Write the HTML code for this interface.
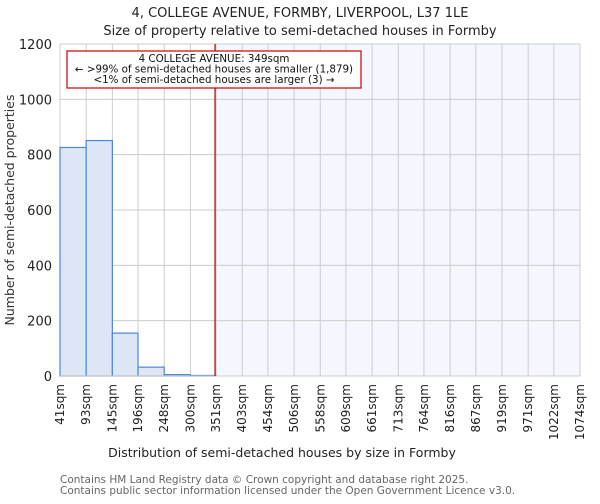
<!DOCTYPE html>
<html><head><meta charset="utf-8"><style>
body{margin:0;background:#fff;font-family:"DejaVu Sans","Liberation Sans",sans-serif;}
svg text{font-family:"DejaVu Sans","Liberation Sans",sans-serif;}
</style></head><body>
<svg id="chart" width="600" height="500" xmlns="http://www.w3.org/2000/svg">
<text x="300" y="17" text-anchor="middle" font-size="13" fill="#222">4, COLLEGE AVENUE, FORMBY, LIVERPOOL, L37 1LE</text>
<text x="300" y="35" text-anchor="middle" font-size="13" fill="#222">Size of property relative to semi-detached houses in Formby</text>
<g id="plot"></g>
<text x="282" y="457" text-anchor="middle" font-size="12.5" fill="#222">Distribution of semi-detached houses by size in Formby</text>
<text transform="translate(14,210) rotate(-90)" text-anchor="middle" font-size="12.5" fill="#333">Number of semi-detached properties</text>
<text x="60" y="483" font-size="10.5" fill="#666">Contains HM Land Registry data © Crown copyright and database right 2025.</text>
<text x="60" y="494" font-size="10.5" fill="#666">Contains public sector information licensed under the Open Government Licence v3.0.</text>
</svg>
<script>
const binLabels=["41sqm","93sqm","145sqm","196sqm","248sqm","300sqm","351sqm","403sqm","454sqm","506sqm","558sqm","609sqm","661sqm","713sqm","764sqm","816sqm","867sqm","919sqm","971sqm","1022sqm","1074sqm"];
const binEdges=[41,93,145,196,248,300,351,403,454,506,558,609,661,713,764,816,867,919,971,1022,1074];
const counts=[826,851,155,32,5,2,0,0,0,0,0,0,0,0,0,0,0,0,0,0];
const yTicks=[0,200,400,600,800,1000,1200];
const propertySize=349;
const L=60,R=580,T=44,B=376,yMax=1200;
const NS="http://www.w3.org/2000/svg";
const g=document.getElementById('plot');
function xs(v){return L+(v-binEdges[0])/(binEdges[binEdges.length-1]-binEdges[0])*(R-L);}
function ys(v){return B-v/yMax*(B-T);}
function mk(t,a,p){const e=document.createElementNS(NS,t);for(const k in a)e.setAttribute(k,a[k]);(p||g).appendChild(e);return e;}
const px=xs(propertySize);
const bg=mk('rect',{x:px,y:T,width:R-px,height:B-T,fill:'#f5f7fe'});


yTicks.forEach(t=>{
 const l=mk('line',{x1:L,x2:R,y1:ys(t),y2:ys(t),stroke:'#cccccc','stroke-width':1});
 
 
 const tx=mk('text',{x:L-8,y:ys(t)+5,'text-anchor':'end','font-size':13,fill:'#222'});
 tx.textContent=t;
 
 
});
binEdges.forEach((e,i)=>{
 const x=xs(e);
 const l=mk('line',{x1:x,x2:x,y1:T,y2:B,stroke:'#cccccc','stroke-width':1});
 
 
 const tx=mk('text',{transform:`translate(${x+4},${B+8}) rotate(-90)`,'text-anchor':'end','font-size':12,fill:'#222'});
 tx.textContent=binLabels[i];
 
 
});
counts.forEach((c,i)=>{
 if(c<=0)return;
 const x0=xs(binEdges[i]),x1=xs(binEdges[i+1]);
 const r=mk('rect',{x:x0,y:ys(c),width:x1-x0,height:B-ys(c),fill:'#dce6f4',stroke:'#4d88d4','stroke-width':1.2});
 
 
});
const ax=mk('line',{x1:L,x2:R,y1:B,y2:B,stroke:'#cccccc'});


const ml=mk('line',{x1:px,x2:px,y1:T,y2:B,stroke:'#bb0000','stroke-width':1.2});


const box=mk('rect',{x:67,y:51,width:294,height:37,fill:'#fff',stroke:'#cc0000','stroke-width':1.2});


["4 COLLEGE AVENUE: "+propertySize+"sqm","← >99% of semi-detached houses are smaller (1,879)","<1% of semi-detached houses are larger (3) →"].forEach((s,i)=>{
 const t=mk('text',{x:214,y:62+i*10.5,'text-anchor':'middle','font-size':10.3,fill:'#111'});
 t.textContent=s;
 
 
});
</script>
</body></html>
